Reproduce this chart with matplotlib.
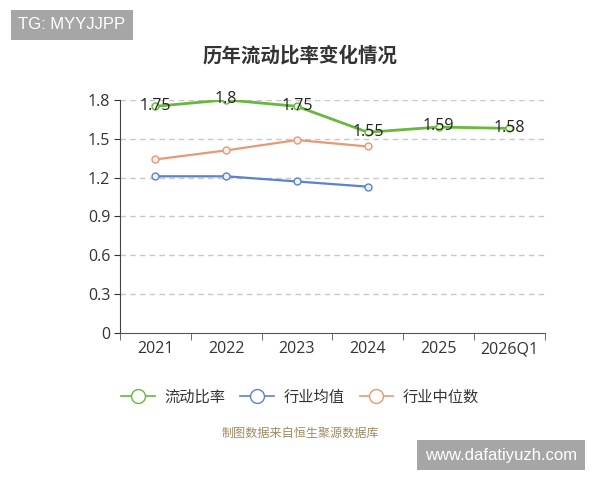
import matplotlib.pyplot as plt
from matplotlib.lines import Line2D

plt.rcParams['font.family'] = ['Noto Sans CJK SC', 'DejaVu Sans']
num_font = ['Open Sans', 'DejaVu Sans']

years       = ["2021", "2022", "2023", "2024", "2025", "2026Q1"]
ratio       = [1.75, 1.80, 1.75, 1.55, 1.59, 1.58]
ind_mean    = [1.21, 1.21, 1.17, 1.13]
ind_median  = [1.34, 1.41, 1.49, 1.44]
ratio_text  = ["1.75", "1.8", "1.75", "1.55", "1.59", "1.58"]
yticks      = [0, 0.3, 0.6, 0.9, 1.2, 1.5, 1.8]
ytick_text  = ["0", "0.3", "0.6", "0.9", "1.2", "1.5", "1.8"]

green  = "#67b83c"
blue   = "#5b82cc"
orange = "#e89874"

fig = plt.figure(figsize=(6, 4.8), dpi=100)
ax  = fig.add_axes([0.2, 0.306, 0.708, 0.486])

x = list(range(len(years)))
ax.plot(x, ratio, color=green, lw=2, marker='o', ms=5, mfc='#eef7e8', mec=green, mew=1, zorder=3)
ax.plot(x[:len(ind_mean)], ind_mean, color=blue, lw=1.6, marker='o', ms=5, mfc='#eef2fa', mec=blue, mew=1, zorder=3)
ax.plot(x[:len(ind_median)], ind_median, color=orange, lw=1.6, marker='o', ms=5, mfc='#fdf1ea', mec=orange, mew=1, zorder=3)

for xi, yi, t in zip(x, ratio, ratio_text):
    ax.text(xi, yi + 0.005, t, ha='center', va='center', fontsize=11.5, color='#222222',
            family=num_font, zorder=4)

ax.set_xlim(-0.5, len(years) - 0.5)
ax.set_ylim(0, 1.8)
ax.set_yticks(yticks)
ax.set_yticklabels(ytick_text, family=num_font)
ax.set_xticks(x)
ax.set_xticklabels(years, family=num_font)
ax.set_xticks([i - 0.5 for i in range(len(years) + 1)], minor=True)
ax.tick_params(axis='x', which='major', length=0, labelsize=11.5, colors='#333333', pad=6)
ax.tick_params(axis='x', which='minor', length=5, color='#555555')
ax.tick_params(axis='y', length=4, labelsize=11.5, colors='#333333', pad=3)

for v in yticks[1:]:
    ax.axhline(v, color='#c8c8c8', lw=1, ls=(0, (4, 3)), zorder=1)

for s in ['top', 'right']:
    ax.spines[s].set_visible(False)
ax.spines['left'].set_color('#444444')
ax.spines['bottom'].set_color('#555555')

fig.text(0.5, 0.885, "历年流动比率变化情况", ha='center', va='center', fontsize=14, fontweight='bold', color='#333333')

handles = [
    Line2D([], [], color=green, lw=1.2, marker='o', ms=10, mfc='white', mec=green),
    Line2D([], [], color=blue, lw=1.2, marker='o', ms=10, mfc='white', mec=blue),
    Line2D([], [], color=orange, lw=1.2, marker='o', ms=10, mfc='white', mec=orange),
]
fig.legend(handles, ["流动比率", "行业均值", "行业中位数"], loc='center', bbox_to_anchor=(0.5, 0.173),
           ncol=3, frameon=False, fontsize=11, handlelength=2.2, handletextpad=0.6, columnspacing=1.0,
           labelcolor='#333333')

fig.text(0.5, 0.098, "制图数据来自恒生聚源数据库", ha='center', va='center', fontsize=8.7, color='#a08a60')

fig.text(0.12, 0.948, "TG: MYYJJPP", ha='center', va='center', fontsize=12, color='white',
         family='Liberation Sans',
         bbox=dict(boxstyle='square,pad=0.45', fc='#a6a6a6', ec='none'))
fig.text(0.835, 0.052, "www.dafatiyuzh.com", ha='center', va='center', fontsize=12, color='white',
         family='Liberation Sans',
         bbox=dict(boxstyle='square,pad=0.45', fc='#a6a6a6', ec='none'))

fig.savefig("out.png", dpi=100)
